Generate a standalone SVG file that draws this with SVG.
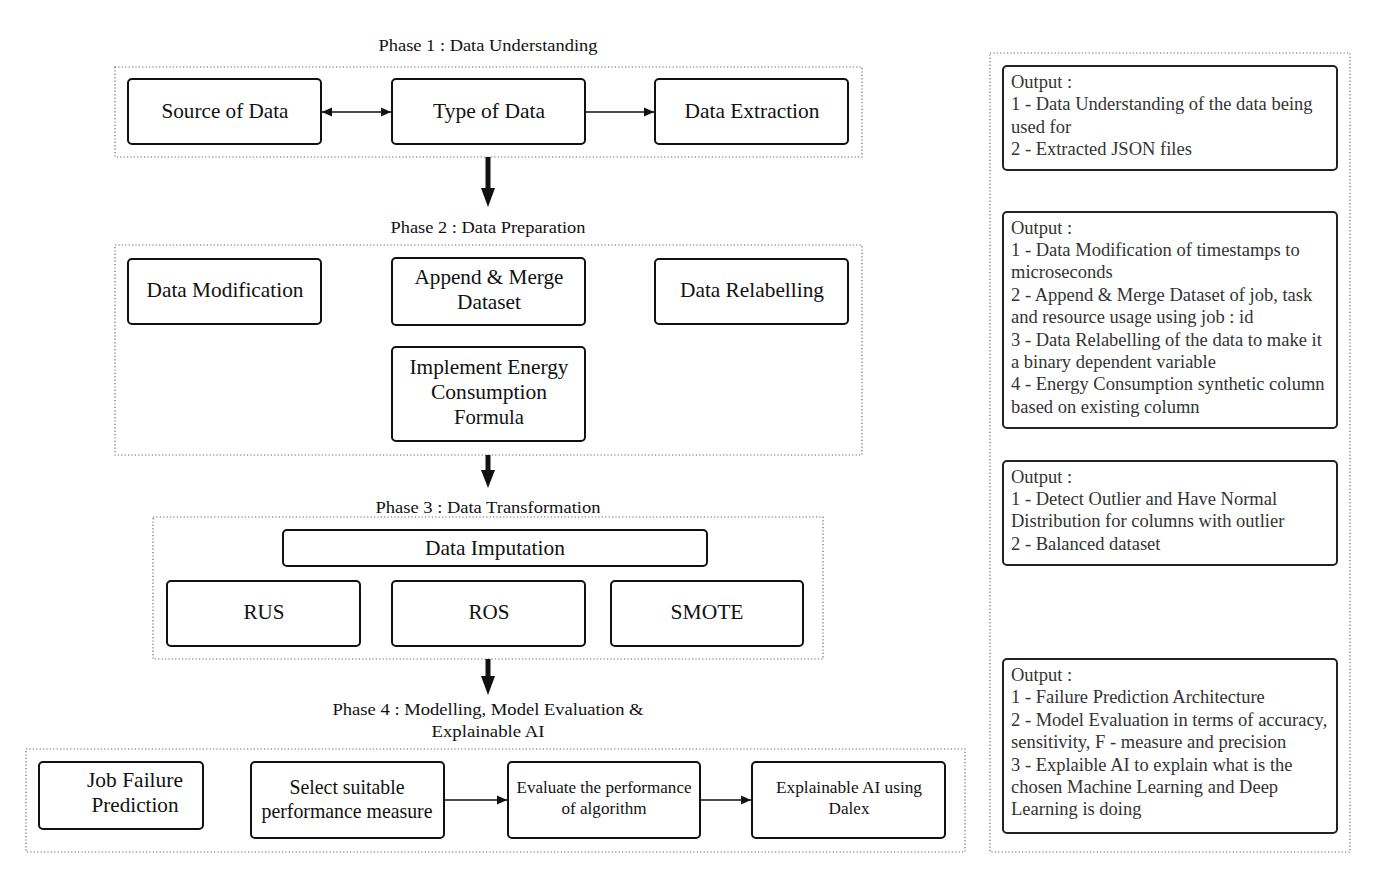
<svg xmlns="http://www.w3.org/2000/svg" width="1376" height="878" viewBox="0 0 1376 878">
  <style>
    .frame { fill: none; stroke: #666; stroke-width: 1.2; stroke-dasharray: 1.2 2.2; }
    .box { fill: #fff; stroke: #111; stroke-width: 2; }
    .out { fill: #fff; stroke: #222; stroke-width: 2; }
    .lbl { font-family: "Liberation Serif", "Times New Roman", serif; fill: #111; text-anchor: middle; }
    .big { font-size: 22px; }
    .mid { font-size: 17px; }
    .phase { font-size: 17px; }
    .note { font-family: "Liberation Serif", "Times New Roman", serif; font-size: 18.5px; fill: #333; }
    .thin { stroke: #111; stroke-width: 1.6; fill: none; }
    .thick { stroke: #111; stroke-width: 5; fill: none; }
  </style>
  <defs>
    <marker id="head" viewBox="0 0 10 10" refX="10" refY="5" markerWidth="10" markerHeight="10" markerUnits="userSpaceOnUse" orient="auto-start-reverse">
      <path d="M0,0.5 L10,5 L0,9.5 Z" fill="#111"/>
    </marker>
  </defs>

  <rect width="1376" height="878" fill="#fff"/>

  <!-- phase frames -->
  <g id="frames">
    <rect class="frame" x="115" y="67" width="747" height="90"/>
    <rect class="frame" x="115" y="245" width="747" height="210"/>
    <rect class="frame" x="153" y="517" width="670" height="142"/>
    <rect class="frame" x="26" y="749" width="939" height="103"/>
    <rect class="frame" x="990" y="53" width="360" height="799"/>
  </g>

  <!-- phase titles -->
  <g id="titles" class="lbl phase">
    <text x="488" y="51" textLength="219" lengthAdjust="spacingAndGlyphs">Phase 1 : Data Understanding</text>
    <text x="488" y="233" textLength="195" lengthAdjust="spacingAndGlyphs">Phase 2 : Data Preparation</text>
    <text x="488" y="513" textLength="225" lengthAdjust="spacingAndGlyphs">Phase 3 : Data Transformation</text>
    <text x="488" y="715" textLength="311" lengthAdjust="spacingAndGlyphs">Phase 4 : Modelling, Model Evaluation &amp;</text>
    <text x="488" y="737" textLength="113" lengthAdjust="spacingAndGlyphs">Explainable AI</text>
  </g>

  <!-- Phase 1 -->
  <g id="source-of-data">
    <rect class="box" x="128" y="79" width="193" height="65" rx="4"/>
    <text class="lbl big" x="225" y="118" textLength="127" lengthAdjust="spacingAndGlyphs">Source of Data</text>
  </g>
  <g id="type-of-data">
    <rect class="box" x="392" y="79" width="193" height="65" rx="4"/>
    <text class="lbl big" x="489" y="118" textLength="112" lengthAdjust="spacingAndGlyphs">Type of Data</text>
  </g>
  <g id="data-extraction">
    <rect class="box" x="655" y="79" width="193" height="65" rx="4"/>
    <text class="lbl big" x="752" y="118" textLength="135" lengthAdjust="spacingAndGlyphs">Data Extraction</text>
  </g>

  <!-- Phase 2 -->
  <g id="data-modification">
    <rect class="box" x="128" y="259" width="193" height="65" rx="4"/>
    <text class="lbl big" x="225" y="297" textLength="157" lengthAdjust="spacingAndGlyphs">Data Modification</text>
  </g>
  <g id="append-merge">
    <rect class="box" x="392" y="258" width="193" height="67" rx="4"/>
    <text class="lbl big" x="489" y="284" textLength="149" lengthAdjust="spacingAndGlyphs">Append &amp; Merge</text>
    <text class="lbl big" x="489" y="309" textLength="64" lengthAdjust="spacingAndGlyphs">Dataset</text>
  </g>
  <g id="data-relabelling">
    <rect class="box" x="655" y="259" width="193" height="65" rx="4"/>
    <text class="lbl big" x="752" y="297" textLength="144" lengthAdjust="spacingAndGlyphs">Data Relabelling</text>
  </g>
  <g id="energy-formula">
    <rect class="box" x="392" y="347" width="193" height="94" rx="4"/>
    <text class="lbl big" x="489" y="374" textLength="159" lengthAdjust="spacingAndGlyphs">Implement Energy</text>
    <text class="lbl big" x="489" y="399" textLength="116" lengthAdjust="spacingAndGlyphs">Consumption</text>
    <text class="lbl big" x="489" y="424" textLength="70" lengthAdjust="spacingAndGlyphs">Formula</text>
  </g>

  <!-- Phase 3 -->
  <g id="data-imputation">
    <rect class="box" x="283" y="530" width="424" height="36" rx="4"/>
    <text class="lbl big" x="495" y="555" textLength="140" lengthAdjust="spacingAndGlyphs">Data Imputation</text>
  </g>
  <g id="rus">
    <rect class="box" x="167" y="581" width="193" height="65" rx="4"/>
    <text class="lbl big" x="264" y="619" textLength="41" lengthAdjust="spacingAndGlyphs">RUS</text>
  </g>
  <g id="ros">
    <rect class="box" x="392" y="581" width="193" height="65" rx="4"/>
    <text class="lbl big" x="489" y="619" textLength="41" lengthAdjust="spacingAndGlyphs">ROS</text>
  </g>
  <g id="smote">
    <rect class="box" x="611" y="581" width="192" height="65" rx="4"/>
    <text class="lbl big" x="707" y="619" textLength="73" lengthAdjust="spacingAndGlyphs">SMOTE</text>
  </g>

  <!-- Phase 4 -->
  <g id="job-failure-prediction">
    <rect class="box" x="39" y="762" width="164" height="67" rx="4"/>
    <text class="lbl big" x="135" y="787" textLength="96" lengthAdjust="spacingAndGlyphs">Job Failure</text>
    <text class="lbl big" x="135" y="812" textLength="87" lengthAdjust="spacingAndGlyphs">Prediction</text>
  </g>
  <g id="performance-measure">
    <rect class="box" x="251" y="762" width="193" height="76" rx="4"/>
    <text class="lbl big" x="347" y="794" textLength="115" lengthAdjust="spacingAndGlyphs">Select suitable</text>
    <text class="lbl big" x="347" y="818" textLength="171" lengthAdjust="spacingAndGlyphs">performance measure</text>
  </g>
  <g id="evaluate-algorithm">
    <rect class="box" x="508" y="762" width="192" height="76" rx="4"/>
    <text class="lbl mid" x="604" y="793" textLength="175" lengthAdjust="spacingAndGlyphs">Evaluate the performance</text>
    <text class="lbl mid" x="604" y="814" textLength="85" lengthAdjust="spacingAndGlyphs">of algorithm</text>
  </g>
  <g id="explainable-ai">
    <rect class="box" x="752" y="762" width="193" height="76" rx="4"/>
    <text class="lbl mid" x="849" y="793" textLength="146" lengthAdjust="spacingAndGlyphs">Explainable AI using</text>
    <text class="lbl mid" x="849" y="814" textLength="41" lengthAdjust="spacingAndGlyphs">Dalex</text>
  </g>

  <!-- output summaries -->
  <g id="output-phase1">
    <rect class="out" x="1003" y="66" width="334" height="104" rx="4"/>
    <text class="note" x="1011" y="88">Output :</text>
    <text class="note" x="1011" y="110">1 - Data Understanding of the data being</text>
    <text class="note" x="1011" y="133">used for</text>
    <text class="note" x="1011" y="155">2 - Extracted JSON files</text>
  </g>
  <g id="output-phase2">
    <rect class="out" x="1003" y="212" width="334" height="216" rx="4"/>
    <text class="note" x="1011" y="234">Output :</text>
    <text class="note" x="1011" y="256">1 - Data Modification of timestamps to</text>
    <text class="note" x="1011" y="278">microseconds</text>
    <text class="note" x="1011" y="301">2 - Append &amp; Merge Dataset of job, task</text>
    <text class="note" x="1011" y="323">and resource usage using job : id</text>
    <text class="note" x="1011" y="346">3 - Data Relabelling of the data to make it</text>
    <text class="note" x="1011" y="368">a binary dependent variable</text>
    <text class="note" x="1011" y="390">4 - Energy Consumption synthetic column</text>
    <text class="note" x="1011" y="413">based on existing column</text>
  </g>
  <g id="output-phase3">
    <rect class="out" x="1003" y="461" width="334" height="104" rx="4"/>
    <text class="note" x="1011" y="483">Output :</text>
    <text class="note" x="1011" y="505">1 - Detect Outlier and Have Normal</text>
    <text class="note" x="1011" y="527">Distribution for columns with outlier</text>
    <text class="note" x="1011" y="550">2 - Balanced dataset</text>
  </g>
  <g id="output-phase4">
    <rect class="out" x="1003" y="659" width="334" height="174" rx="4"/>
    <text class="note" x="1011" y="681">Output :</text>
    <text class="note" x="1011" y="703">1 - Failure Prediction Architecture</text>
    <text class="note" x="1011" y="726">2 - Model Evaluation in terms of accuracy,</text>
    <text class="note" x="1011" y="748">sensitivity, F - measure and precision</text>
    <text class="note" x="1011" y="771">3 - Explaible AI to explain what is the</text>
    <text class="note" x="1011" y="793">chosen Machine Learning and Deep</text>
    <text class="note" x="1011" y="815">Learning is doing</text>
  </g>

  <!-- connectors -->
  <g id="connectors">
    <line class="thin" x1="322" y1="112" x2="391" y2="112" marker-start="url(#head)" marker-end="url(#head)"/>
    <line class="thin" x1="586" y1="112" x2="654" y2="112" marker-end="url(#head)"/>
    <line class="thin" x1="445" y1="800" x2="507" y2="800" marker-end="url(#head)"/>
    <line class="thin" x1="701" y1="800" x2="751" y2="800" marker-end="url(#head)"/>

    <line class="thick" x1="488" y1="157" x2="488" y2="190"/>
    <path d="M481,188 L495,188 L488,207 Z" fill="#111"/>
    <line class="thick" x1="488" y1="455" x2="488" y2="472"/>
    <path d="M481,470 L495,470 L488,488 Z" fill="#111"/>
    <line class="thick" x1="488" y1="659" x2="488" y2="678"/>
    <path d="M481,676 L495,676 L488,695 Z" fill="#111"/>
  </g>
</svg>
